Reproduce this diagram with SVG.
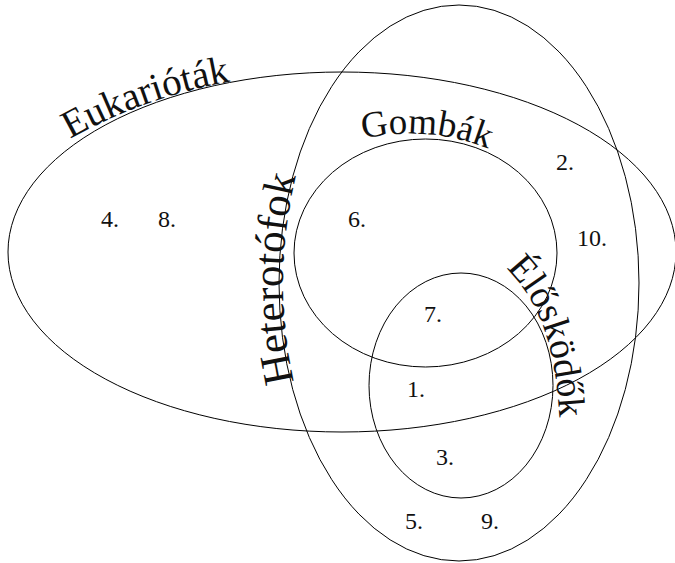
<svg xmlns="http://www.w3.org/2000/svg" width="675" height="563" viewBox="0 0 675 563">
<style>
.set{fill:none;stroke:#000;stroke-width:1}
text{font-family:'Liberation Serif','Times New Roman',serif;fill:#111}
.num{font-size:24px}
</style>
<defs>
<path id="pEuk" d="M 70,139 Q 152,93 246,79"/>
<path id="pHet" d="M 294,382 Q 271,280 296,176"/>
<path id="pGom" d="M 363,139 Q 430,124 494,151"/>
<path id="pElo" d="M 506,268 C 535,298 556,335 560,428"/>
</defs>
<rect width="675" height="563" fill="#fff"/>
<g id="eukariotak">
<ellipse class="set" cx="342" cy="252" rx="334" ry="180"/>
<text font-family="Liberation Serif, serif" font-size="39"><textPath href="#pEuk">Eukarióták</textPath></text>
</g>
<g id="heterotrofok">
<ellipse class="set" cx="459" cy="283" rx="180" ry="278"/>
<text font-family="Liberation Serif, serif" font-size="43"><textPath href="#pHet">Heterotófok</textPath></text>
</g>
<g id="gombak">
<ellipse class="set" cx="425.5" cy="253" rx="131.5" ry="114"/>
<text font-family="Liberation Serif, serif" font-size="37"><textPath href="#pGom">Gombák</textPath></text>
</g>
<g id="eloskodok">
<ellipse class="set" cx="461" cy="385.5" rx="92" ry="112.5"/>
<text font-family="Liberation Serif, serif" font-size="38"><textPath href="#pElo">Élősködők</textPath></text>
</g>
<g id="items" font-family="Liberation Serif, serif">
<text class="num" x="101" y="227">4.</text>
<text class="num" x="158" y="227">8.</text>
<text class="num" x="348" y="227">6.</text>
<text class="num" x="556" y="170">2.</text>
<text class="num" x="577" y="246">10.</text>
<text class="num" x="424" y="322">7.</text>
<text class="num" x="407" y="397">1.</text>
<text class="num" x="436" y="465">3.</text>
<text class="num" x="405" y="529">5.</text>
<text class="num" x="481" y="529">9.</text>
</g>
</svg>
